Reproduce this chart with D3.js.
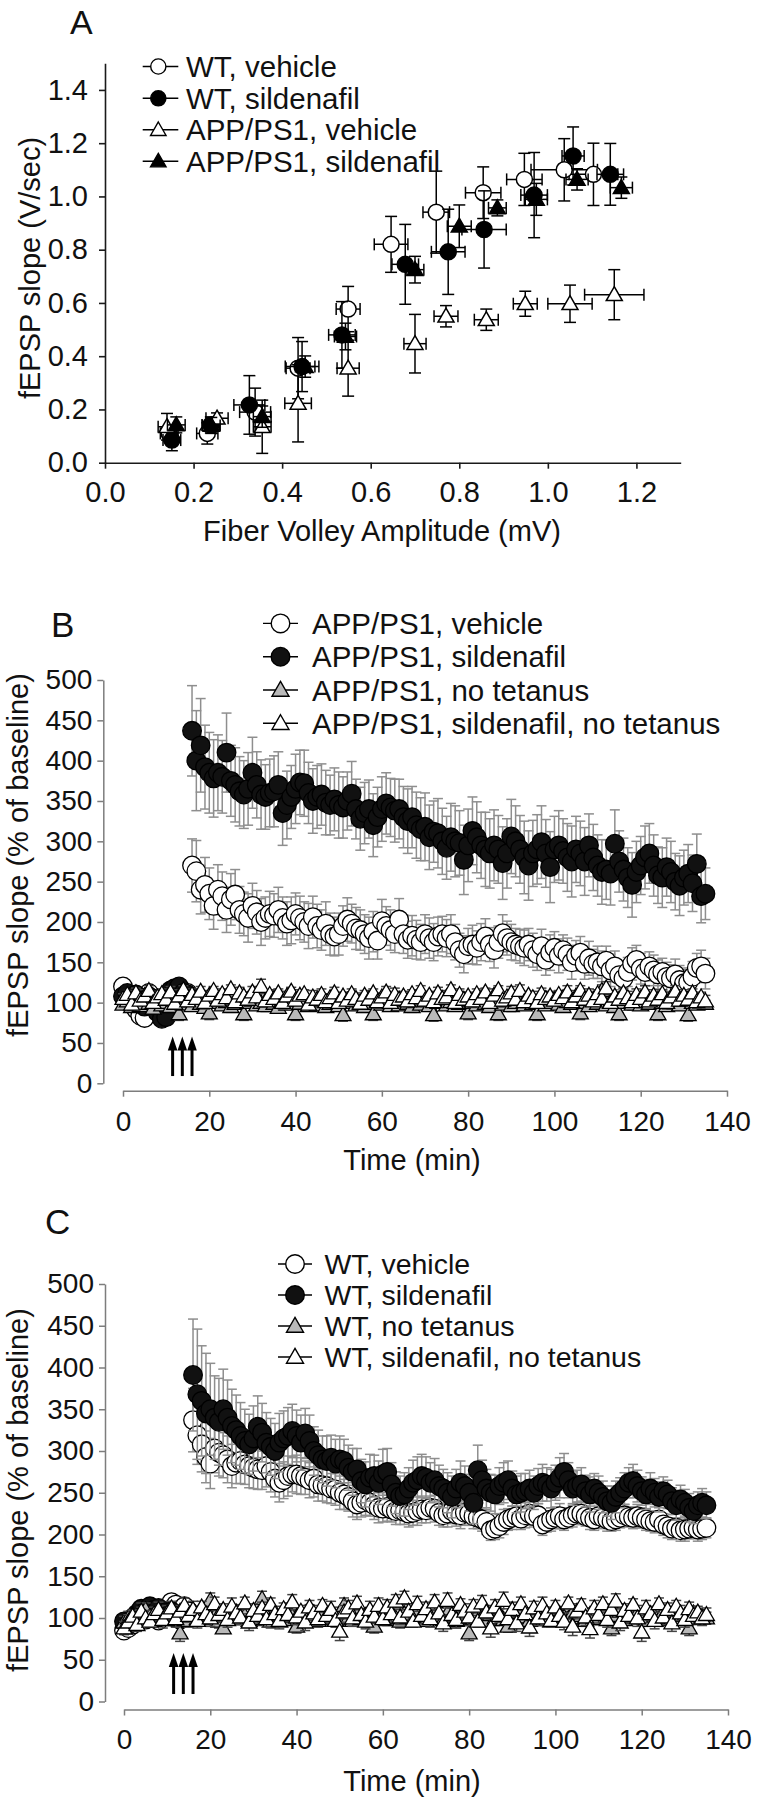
<!DOCTYPE html>
<html><head><meta charset="utf-8">
<script src="https://cdnjs.cloudflare.com/ajax/libs/d3/7.8.5/d3.min.js"></script>
<style>body{margin:0;background:#fff}svg{display:block}</style>
</head><body>
<svg id="chart" width="764" height="1800"></svg>
<script>
// ---------------- Panel A data ----------------
const aXTicks = [0.0,0.2,0.4,0.6,0.8,1.0,1.2];
const aYTicks = [0.0,0.2,0.4,0.6,0.8,1.0,1.2,1.4];
const aLegend = ["WT, vehicle","WT, sildenafil","APP/PS1, vehicle","APP/PS1, sildenafil"];

const fvWTveh   = [0.145,0.231,0.339,0.436,0.549,0.646,0.748,0.854,0.947,1.037,1.103];
const slWTveh   = [0.11,0.11,0.19,0.355,0.577,0.82,0.941,1.014,1.064,1.10,1.083];
const fvErrWTveh= [0.02,0.024,0.035,0.027,0.027,0.038,0.03,0.04,0.04,0.075,0.055];
const slErrWTveh= [0.03,0.04,0.09,0.115,0.085,0.105,0.154,0.097,0.098,0.117,0.117];

const fvWTsil   = [0.151,0.239,0.326,0.445,0.535,0.678,0.775,0.856,0.969,1.057,1.141];
const slWTsil   = [0.085,0.142,0.217,0.361,0.48,0.745,0.792,0.876,1.005,1.152,1.083];
const fvErrWTsil= [0.02,0.02,0.035,0.038,0.03,0.03,0.038,0.05,0.03,0.025,0.03];
const slErrWTsil= [0.04,0.03,0.11,0.094,0.125,0.15,0.16,0.145,0.16,0.109,0.116];

const fvAPveh   = [0.14,0.253,0.355,0.436,0.549,0.70,0.77,0.861,0.949,1.05,1.15];
const slAPveh   = [0.135,0.167,0.135,0.223,0.355,0.447,0.55,0.537,0.597,0.597,0.631];
const fvErrAPveh= [0.02,0.025,0.02,0.03,0.025,0.025,0.027,0.027,0.027,0.05,0.067];
const slErrAPveh= [0.05,0.02,0.1,0.145,0.105,0.11,0.04,0.04,0.047,0.07,0.094];

const fvAPsil   = [0.161,0.24,0.355,0.452,0.543,0.70,0.80,0.886,0.974,1.066,1.166];
const slAPsil   = [0.142,0.14,0.173,0.361,0.474,0.725,0.888,0.957,0.989,1.064,1.033];
const fvErrAPsil= [0.02,0.02,0.02,0.022,0.025,0.02,0.027,0.02,0.025,0.025,0.025];
const slErrAPsil= [0.03,0.03,0.04,0.04,0.05,0.05,0.08,0.03,0.06,0.04,0.04];

// ---------------- Panels B & C shared ----------------
const minutes = [0,1,2,3,4,5,6,7,8,9,10,11,12,13,14,15,16,17,18,19,20,21,22,23,24,25,26,27,28,29,
30,31,32,33,34,35,36,37,38,39,40,41,42,43,44,45,46,47,48,49,50,51,52,53,54,55,56,57,58,59,
60,61,62,63,64,65,66,67,68,69,70,71,72,73,74,75,76,77,78,79,80,81,82,83,84,85,86,87,88,89,
90,91,92,93,94,95,96,97,98,99,100,101,102,103,104,105,106,107,108,109,110,111,112,113,114,115,116,117,118,119,
120,121,122,123,124,125,126,127,128,129,130,131,132,133,134,135];
const timeTicks = [0,20,40,60,80,100,120,140];
const pctTicks = [0,50,100,150,200,250,300,350,400,450,500];
const tetanusTimes = [11.5,13.75,16];
const arrowSpan = [9,58];

// ---------------- Panel B data (APP/PS1) ----------------
const bLegend = ["APP/PS1, vehicle","APP/PS1, sildenafil","APP/PS1, no tetanus","APP/PS1, sildenafil, no tetanus"];
const bVehBase = [120,105,100,92,84,81,112,105,95,86,90,96,104,110,108,112];
const bVehPost = [270,263,240,246,235,220,240,232,215,228,
234,215,210,205,220,212,200,205,210,208,
215,205,198,202,210,205,200,195,206,195,
190,198,185,182,185,195,203,198,192,190,
185,180,188,177,201,195,190,185,203,185,
178,183,178,175,185,180,175,182,185,180,
185,175,165,160,170,172,168,175,182,172,
165,175,186,180,175,172,170,168,172,165,
160,170,153,162,168,158,165,160,150,158,
162,148,155,148,150,145,152,140,145,134,
130,138,148,153,142,138,145,140,135,138,
132,130,135,128,124,125,132,143,145,136];
const bVehSemBase = [10,9,8,9,10,8,9,11,9,8,10,9,8,9,10,9];
const bVehSemPost = [33,38,30,34,32,29,31,30,28,32,
31,29,27,30,28,27,29,26,28,27,
28,26,27,29,26,27,25,28,26,27,
25,27,26,24,26,25,27,24,26,25,
24,26,25,23,27,24,25,23,26,24,
23,25,24,22,24,25,23,24,22,23,
24,22,21,23,22,24,21,23,22,21,
22,20,23,21,22,20,21,22,20,21,
20,21,19,22,20,21,19,20,21,19,
20,19,21,18,20,19,18,20,19,18,
19,18,20,18,19,17,18,19,18,17,
18,17,19,18,17,18,19,18,20,19];

const bSilBase = [108,112,105,110,102,95,108,100,88,80,82,115,118,120,112,110];
const bSilPost = [437,400,419,392,385,378,385,380,410,375,
370,362,358,365,385,370,358,355,360,362,
370,335,345,355,365,373,372,360,350,355,
358,348,345,352,345,342,350,359,340,328,
335,340,320,330,340,347,342,338,340,330,
325,330,320,315,318,305,312,310,300,292,
305,300,298,277,295,313,305,295,290,285,
295,290,273,285,306,300,290,280,270,285,
290,299,285,268,290,295,288,280,275,290,
285,275,295,280,270,262,265,260,297,275,
265,255,246,262,270,280,285,270,258,255,
268,262,250,245,255,260,248,272,232,235];
const bSilSemBase = [9,10,8,9,11,10,9,8,10,9,8,9,10,9,8,9];
const bSilSemPost = [56,62,58,52,50,48,47,45,49,44,
46,43,42,45,44,41,43,40,42,44,
41,40,42,39,43,40,41,38,40,39,
38,40,37,39,41,38,36,40,37,39,
38,36,39,37,40,38,36,39,37,38,
40,38,41,39,42,40,38,43,41,39,
42,44,40,43,45,42,44,41,46,43,
44,42,45,43,46,44,42,45,43,41,
43,45,42,44,41,43,40,42,44,41,
40,42,39,41,38,40,37,39,42,38,
39,37,40,38,36,39,37,38,35,37,
36,38,35,37,34,36,35,37,33,32];

const bNoTet = [98,102,95,100,96,104,99,93,101,97,
100,95,103,86,98,102,96,105,99,94,
87,100,104,97,101,95,99,106,86,100,
103,97,100,96,102,99,94,101,98,103,
86,99,104,96,100,97,102,95,99,101,
96,85,100,103,97,101,95,99,86,102,
98,104,96,100,97,103,99,95,101,98,
102,96,85,100,104,97,101,96,99,103,
87,100,97,104,99,95,101,86,98,102,
96,100,104,97,101,99,86,103,97,100,
104,98,95,101,99,103,87,100,96,104,
99,115,97,101,95,86,100,104,98,102,
97,101,99,104,86,100,96,102,99,97,
103,85,100,98,102,99];
const bNoTetSem = [5,6,4,5,7,5,6,4,5,6,5,4,6,8,5,6,4,5,7,5,8,5,6,4,5,7,5,6,8,5,
6,4,5,7,5,6,4,5,6,7,8,5,6,4,5,7,6,5,4,6,5,8,6,5,4,6,7,5,8,6,
5,7,4,6,5,6,5,7,4,6,5,6,8,5,4,6,7,5,6,5,8,6,5,7,4,6,5,8,6,5,
7,5,6,4,6,5,8,7,5,6,4,6,5,7,5,6,8,5,6,4,6,7,5,6,4,8,5,6,7,5,
6,4,7,5,8,6,5,7,4,6,5,8,6,5,7,4];

const bSilNoTet = [105,110,98,112,103,108,115,100,107,111,
104,113,99,108,116,102,110,105,114,100,
109,115,103,111,106,117,101,112,108,104,
113,107,120,102,110,105,112,100,108,114,
103,109,111,98,107,104,110,101,106,112,
100,108,103,111,105,99,109,104,112,101,
107,113,100,110,104,108,102,111,106,115,
103,109,101,112,105,107,116,100,110,104,
108,102,111,105,113,100,109,116,103,107,
112,104,115,101,109,106,100,111,105,108,
103,110,106,113,101,108,115,104,109,102,
111,105,118,100,108,104,112,106,101,110,
105,113,102,109,104,111,100,107,114,103,
109,104,112,101,107,102];
const bSilNoTetSem = [6,5,7,6,5,8,6,5,7,6,5,7,6,8,5,6,7,5,6,8,6,5,7,6,8,5,6,7,5,6,
7,6,9,5,6,7,5,8,6,5,6,7,5,6,8,5,7,6,5,7,6,5,8,6,7,5,6,7,5,8,
5,7,6,8,5,6,7,5,8,6,7,5,6,7,5,8,6,5,7,6,5,8,6,7,5,6,8,5,7,6,
8,5,7,6,5,8,6,7,5,6,7,5,6,8,5,7,6,5,8,6,5,7,8,6,5,7,6,8,5,7,
6,8,5,7,6,5,8,6,7,5,7,6,5,8,6,7];

// ---------------- Panel C data (WT) ----------------
const cLegend = ["WT, vehicle","WT, sildenafil","WT, no tetanus","WT, sildenafil, no tetanus"];
const cVehBase = [85,88,92,96,100,98,104,102,97,108,112,119,116,110,114,108];
const cVehPost = [337,319,308,293,285,303,298,295,290,282,
286,288,284,282,280,278,277,282,275,267,
262,265,270,272,272,270,268,265,267,260,
259,258,255,254,250,248,245,240,236,238,
241,238,235,232,231,233,230,228,229,227,
225,226,228,230,229,232,231,226,223,225,
228,224,223,226,225,222,220,218,215,205,
207,210,215,218,220,222,219,223,225,222,
223,212,215,218,220,222,218,220,223,225,
225,222,220,218,222,220,218,216,218,220,
223,221,220,222,220,218,216,215,218,212,
210,207,208,205,206,207,208,206,207,208];
const cVehSemBase = [9,8,10,9,8,9,10,8,9,10,9,8,9,10,9,8];
const cVehSemPost = [38,35,33,31,30,29,28,27,28,26,
25,27,24,26,25,24,23,25,24,22,
23,22,24,21,23,22,20,21,22,20,
19,20,18,19,20,18,17,19,18,17,
18,16,17,18,16,17,15,16,17,15,
16,15,17,16,15,14,16,15,14,16,
15,14,16,15,14,15,13,14,15,12,
13,14,15,13,14,12,13,15,14,13,
14,13,12,14,13,15,13,12,14,13,
13,12,14,13,12,13,14,12,13,12,
13,12,13,14,12,13,12,13,14,13,
14,13,12,13,14,12,13,14,13,12];

const cSilBase = [96,92,100,105,111,108,114,110,112,106,103,108,100,98,104,102];
const cSilPost = [391,368,360,345,350,340,335,350,340,330,
325,318,312,308,315,329,322,310,305,300,
310,315,318,324,318,310,321,312,300,295,
290,288,292,285,290,288,280,275,278,264,
260,268,270,262,272,275,260,250,246,248,
255,262,265,270,268,262,265,258,255,250,
245,255,262,258,250,238,277,265,255,250,
248,258,262,265,255,248,250,252,255,250,
258,262,260,255,262,268,275,265,255,258,
260,252,248,255,250,245,240,238,245,250,
255,262,264,258,252,248,255,250,245,252,
248,240,235,242,238,232,228,235,238,235];
const cSilSemBase = [8,9,8,10,9,8,9,10,8,9,8,9,10,8,9,8];
const cSilSemPost = [67,78,66,72,55,50,52,48,45,44,
42,40,38,36,39,37,35,36,34,33,
35,33,34,32,31,33,30,31,29,30,
28,30,27,29,28,26,27,28,25,26,
27,28,25,26,30,28,26,25,24,26,
25,27,28,26,25,24,26,25,23,24,
25,23,26,24,22,25,30,24,23,22,
23,22,24,23,21,22,23,21,22,20,
21,22,20,23,21,24,22,21,20,19,
20,19,21,18,20,19,18,20,19,18,
19,18,20,19,17,18,19,17,18,17,
17,16,18,17,16,17,15,16,17,16];

const cNoTet = [95,100,104,98,106,110,102,97,105,100,
103,98,106,82,101,97,104,99,107,100,
121,102,96,88,104,100,107,99,103,97,
105,99,123,101,96,104,100,98,106,102,
90,104,99,107,101,97,105,100,103,98,
106,115,100,97,104,99,103,96,90,101,
104,98,107,100,96,105,101,99,108,102,
97,104,112,100,98,106,101,97,103,100,
82,99,105,101,97,104,100,106,98,90,
103,99,106,101,97,104,100,107,98,102,
96,105,101,99,106,100,103,97,104,101,
99,105,100,88,103,108,98,104,101,106,
100,97,105,102,98,107,101,99,104,100,
103,88,106,99,102,100];
const cNoTetSem = [7,8,6,9,7,8,6,7,9,8,7,6,8,10,7,8,6,9,7,8,9,7,8,6,8,7,9,6,8,7,
6,8,9,7,8,6,7,9,8,7,8,7,6,9,7,8,6,7,9,8,7,9,8,6,7,8,9,7,8,6,
8,7,9,6,8,7,6,9,7,8,7,8,9,7,6,8,7,9,6,8,9,7,8,6,8,7,9,8,6,7,
8,6,7,9,8,7,6,8,9,7,7,8,6,9,7,8,6,7,8,9,6,8,7,9,8,7,6,8,7,9,
8,7,9,6,8,7,9,8,6,7,7,9,8,6,8,7];

const cSilNoTet = [88,95,102,92,108,100,96,105,110,98,
106,112,99,108,115,103,110,97,113,105,
100,117,104,110,98,114,106,101,118,95,
109,103,112,99,116,105,97,111,104,119,
101,108,95,113,106,99,115,103,110,97,
84,107,112,100,118,104,96,110,102,115,
99,113,105,120,101,124,108,96,117,103,
111,99,119,106,94,121,104,98,116,108,
101,114,96,118,107,88,113,103,121,99,
110,94,117,105,89,112,100,115,106,97,
113,103,96,118,90,108,115,101,87,112,
104,117,98,110,120,95,109,103,116,100,
83,112,105,97,117,101,110,94,114,106,
98,111,103,107,100,104];
const cSilNoTetSem = [8,9,7,8,10,9,7,8,9,10,9,8,10,7,9,8,10,9,7,8,10,8,9,7,9,10,8,9,7,10,
8,9,7,10,8,9,10,7,8,9,9,7,10,8,9,8,7,9,10,8,11,8,9,10,8,7,9,10,8,9,
7,9,10,8,9,8,10,7,9,10,8,10,9,7,10,9,8,10,7,9,10,8,7,9,8,11,9,8,10,7,
9,10,8,7,11,8,9,10,7,8,8,9,10,7,11,9,8,10,11,9,10,8,9,7,9,10,8,9,7,10,
11,9,8,10,7,9,8,10,7,9,9,8,10,7,9,8];

// ---------------- drawing ----------------
const FONT = "'Liberation Sans', Arial, Helvetica, sans-serif";
const svg = d3.select("#chart");

function triPath(s){
  const h = s*Math.sqrt(3)/2;
  return `M0,${-0.58*h}L${s/2},${0.42*h}L${-s/2},${0.42*h}Z`;
}
function marker(g, shape, fill, size, x, y, sw){
  if(shape === "circle"){
    g.append("circle").attr("cx",x).attr("cy",y).attr("r",size)
      .attr("fill",fill).attr("stroke","#000").attr("stroke-width",sw);
  } else {
    g.append("path").attr("d",triPath(size)).attr("transform",`translate(${x},${y})`)
      .attr("fill",fill).attr("stroke","#000").attr("stroke-width",sw).attr("stroke-linejoin","miter");
  }
}
function styleAxis(sel, color, fs, w){
  sel.attr("font-family",null).attr("font-size",null);
  sel.select(".domain").attr("stroke",color).attr("stroke-width",w);
  sel.selectAll(".tick line").attr("stroke",color).attr("stroke-width",w);
  sel.selectAll(".tick text").attr("fill","#111").style("font-size",fs+"px").style("font-family",FONT);
}
function addText(txt, x, y, fs, opts={}){
  const t = svg.append("text").attr("x",x).attr("y",y).text(txt)
    .style("font-family",FONT).style("font-size",fs+"px").attr("fill","#111");
  if(opts.anchor) t.attr("text-anchor",opts.anchor);
  if(opts.rotate) t.attr("transform",`rotate(-90,${x},${y})`);
  return t;
}
function legend(items, rows, l0, l1, xm, xt, fs, rC, sT){
  items.forEach((it,i)=>{
    const g = svg.append("g");
    const yy = rows[i];
    g.append("line").attr("x1",l0).attr("x2",l1).attr("y1",yy).attr("y2",yy)
      .attr("stroke","#000").attr("stroke-width",1.4);
    marker(g, it.shape, it.fill, it.shape==="circle"?rC:sT, xm, yy, 1.4);
    addText(it.label, xt, yy + fs*0.36, fs);
  });
}

// ===== Panel A =====
(function(){
  const x = d3.scaleLinear().domain([0,1.3]).range([105,680.7]);
  const y = d3.scaleLinear().domain([0,1.5]).range([462.7,63.3]);
  const ya = svg.append("g").attr("transform","translate(105,0)")
    .call(d3.axisLeft(y).tickValues(aYTicks).tickFormat(d3.format(".1f")).tickSize(6).tickSizeOuter(0).tickPadding(11));
  styleAxis(ya,"#1a1a1a",29,1.6);
  const xa = svg.append("g").attr("transform","translate(0,462.7)")
    .call(d3.axisBottom(x).tickValues(aXTicks).tickFormat(d3.format(".1f")).tickSize(6).tickSizeOuter(0).tickPadding(13));
  styleAxis(xa,"#1a1a1a",29,1.6);

  const series = [
    {fx:fvWTveh, sy:slWTveh, ex:fvErrWTveh, ey:slErrWTveh, shape:"circle", fill:"#fff"},
    {fx:fvWTsil, sy:slWTsil, ex:fvErrWTsil, ey:slErrWTsil, shape:"circle", fill:"#000"},
    {fx:fvAPveh, sy:slAPveh, ex:fvErrAPveh, ey:slErrAPveh, shape:"tri", fill:"#fff"},
    {fx:fvAPsil, sy:slAPsil, ex:fvErrAPsil, ey:slErrAPsil, shape:"tri", fill:"#000"}
  ];
  series.forEach(s=>{
    const g = svg.append("g");
    const ln=(a,b,c,d)=>g.append("line").attr("x1",a).attr("y1",b).attr("x2",c).attr("y2",d)
      .attr("stroke","#000").attr("stroke-width",1.5);
    s.fx.forEach((fv,i)=>{
      const cx = x(fv), cy = y(s.sy[i]);
      const y1 = y(s.sy[i]+s.ey[i]), y2 = y(s.sy[i]-s.ey[i]);
      const x1 = x(fv-s.ex[i]), x2 = x(fv+s.ex[i]);
      ln(cx,y1,cx,y2); ln(cx-6,y1,cx+6,y1); ln(cx-6,y2,cx+6,y2);
      ln(x1,cy,x2,cy); ln(x1,cy-6,x1,cy+6); ln(x2,cy-6,x2,cy+6);
    });
    s.fx.forEach((fv,i)=>{
      marker(g, s.shape, s.fill, s.shape==="circle"?8:16, x(fv), y(s.sy[i]), 1.5);
    });
  });
  addText("A",70,34,34);
  addText("fEPSP slope (V/sec)",40,268,29,{anchor:"middle",rotate:true});
  addText("Fiber Volley Amplitude (mV)",382,541,29,{anchor:"middle"});
  legend([
    {label:aLegend[0],shape:"circle",fill:"#fff"},
    {label:aLegend[1],shape:"circle",fill:"#000"},
    {label:aLegend[2],shape:"tri",fill:"#fff"},
    {label:aLegend[3],shape:"tri",fill:"#000"}
  ],[66.5,98.3,129.8,161.2],142.7,178.3,158.3,186,29.5,7.6,15.5);
})();

// ===== Panels B & C =====
function timePanel(p){
  const x = d3.scaleLinear().domain([0,140]).range([p.x0,p.x1]);
  const y = d3.scaleLinear().domain([0,500]).range([p.y0,p.y500]);
  const ya = svg.append("g").attr("transform",`translate(${p.yAxisX},0)`)
    .call(d3.axisLeft(y).tickValues(pctTicks).tickSize(6).tickSizeOuter(0).tickPadding(5));
  styleAxis(ya,"#7d7d7d",28,1.5);
  const xa = svg.append("g").attr("transform",`translate(0,${p.xAxisY})`)
    .call(d3.axisBottom(x).tickValues(timeTicks).tickSize(6).tickSizeOuter(0).tickPadding(14));
  styleAxis(xa,"#7d7d7d",28,1.5);

  p.series.forEach(s=>{
    const g = svg.append("g");
    s.values.forEach((v,i)=>{
      const cx = x(minutes[i]);
      const y1 = y(v+s.sem[i]), y2 = y(v-s.sem[i]);
      g.append("line").attr("x1",cx).attr("x2",cx).attr("y1",y1).attr("y2",y2)
        .attr("stroke",s.barColor).attr("stroke-width",1.5);
      g.append("line").attr("x1",cx-5).attr("x2",cx+5).attr("y1",y1).attr("y2",y1)
        .attr("stroke",s.barColor).attr("stroke-width",1.5);
      g.append("line").attr("x1",cx-5).attr("x2",cx+5).attr("y1",y2).attr("y2",y2)
        .attr("stroke",s.barColor).attr("stroke-width",1.5);
    });
    s.values.forEach((v,i)=>{
      marker(g, s.shape, s.fill, s.shape==="circle"?9.3:16, x(minutes[i]), y(v), 1.3);
    });
  });
  // tetanus arrows
  tetanusTimes.forEach(t=>{
    const ax = x(t), yb = y(arrowSpan[0]), yt = y(arrowSpan[1]);
    svg.append("line").attr("x1",ax).attr("x2",ax).attr("y1",yb).attr("y2",yt+10)
      .attr("stroke","#000").attr("stroke-width",3);
    svg.append("path").attr("d",`M${ax},${yt}L${ax-4.8},${yt+14}L${ax+4.8},${yt+14}Z`).attr("fill","#000");
  });
  addText(p.letter,p.letterX,p.letterY,35);
  addText("fEPSP slope (% of baseline)",28,p.yTitleY,29,{anchor:"middle",rotate:true});
  addText("Time (min)",412,p.xTitleY,29,{anchor:"middle"});
  legend(p.legendItems,p.legendRows,p.lg0,p.lg1,p.lgm,p.lgt,p.lgFont,9.3,17);
}

timePanel({
  x0:123,x1:727,y0:1083.3,y500:680,yAxisX:103.3,xAxisY:1090.7,
  letter:"B",letterX:51,letterY:637,yTitleY:855,xTitleY:1170,
  series:[
    {values:bVehBase.concat(bVehPost), sem:bVehSemBase.concat(bVehSemPost), shape:"circle", fill:"#fff", barColor:"#8e8e8e"},
    {values:bSilBase.concat(bSilPost), sem:bSilSemBase.concat(bSilSemPost), shape:"circle", fill:"#111", barColor:"#8e8e8e"},
    {values:bNoTet, sem:bNoTetSem, shape:"tri", fill:"#b9b9b9", barColor:"#444"},
    {values:bSilNoTet, sem:bSilNoTetSem, shape:"tri", fill:"#fff", barColor:"#444"}
  ],
  legendItems:[
    {label:bLegend[0],shape:"circle",fill:"#fff"},
    {label:bLegend[1],shape:"circle",fill:"#111"},
    {label:bLegend[2],shape:"tri",fill:"#b9b9b9"},
    {label:bLegend[3],shape:"tri",fill:"#fff"}
  ],
  legendRows:[623.4,656.7,690,723.3], lg0:263, lg1:298, lgm:280.5, lgt:312, lgFont:29.5
});

timePanel({
  x0:124,x1:728,y0:1701.5,y500:1284,yAxisX:105,xAxisY:1709.5,
  letter:"C",letterX:45,letterY:1234,yTitleY:1490,xTitleY:1791,
  series:[
    {values:cVehBase.concat(cVehPost), sem:cVehSemBase.concat(cVehSemPost), shape:"circle", fill:"#fff", barColor:"#8e8e8e"},
    {values:cSilBase.concat(cSilPost), sem:cSilSemBase.concat(cSilSemPost), shape:"circle", fill:"#111", barColor:"#8e8e8e"},
    {values:cNoTet, sem:cNoTetSem, shape:"tri", fill:"#b9b9b9", barColor:"#444"},
    {values:cSilNoTet, sem:cSilNoTetSem, shape:"tri", fill:"#fff", barColor:"#444"}
  ],
  legendItems:[
    {label:cLegend[0],shape:"circle",fill:"#fff"},
    {label:cLegend[1],shape:"circle",fill:"#111"},
    {label:cLegend[2],shape:"tri",fill:"#b9b9b9"},
    {label:cLegend[3],shape:"tri",fill:"#fff"}
  ],
  legendRows:[1264,1295,1326,1357], lg0:278, lg1:312, lgm:295, lgt:324.4, lgFont:28.5
});
</script>
</body></html>
